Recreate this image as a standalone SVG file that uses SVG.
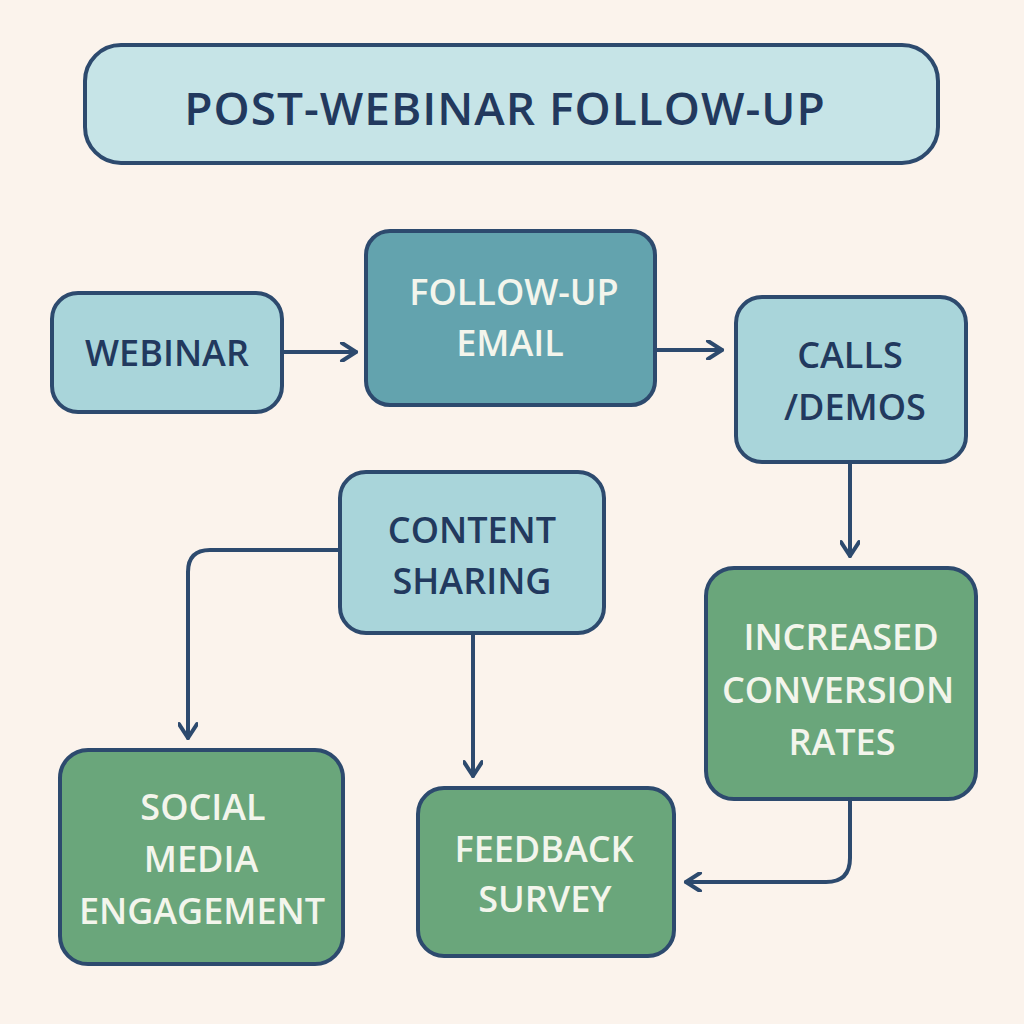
<svg xmlns="http://www.w3.org/2000/svg" width="1024" height="1024" viewBox="0 0 1024 1024">
<style>
.b{stroke:#2D4A6E;stroke-width:4}
.l{fill:#A9D5DA}.t{fill:#C6E4E7}.m{fill:#63A3AE}.g{fill:#6AA67B}
text{font-family:"Open Sans","Liberation Sans",sans-serif;font-weight:600;text-anchor:middle;font-size:36px}
.d{fill:#22395E}.w{fill:#F3F5EC}
.c{fill:none;stroke:#2D4A6E;stroke-width:4;stroke-linecap:round;stroke-linejoin:round}
</style>
<defs><marker id="a" viewBox="0 0 20 20" refX="17" refY="10" markerWidth="20" markerHeight="20" markerUnits="userSpaceOnUse" orient="auto"><path d="M3,1 L17,10 L3,19" fill="none" stroke="#2D4A6E" stroke-width="4" stroke-linecap="round" stroke-linejoin="round"/></marker></defs>
<rect width="1024" height="1024" fill="#FBF3EC"/>
<g id="title"><rect class="b t" x="85" y="45" width="853" height="118" rx="36"/><text class="d" x="505" y="125" style="font-size:46px;letter-spacing:1px">POST-WEBINAR FOLLOW-UP</text></g>
<g id="webinar"><rect class="b l" x="52" y="293" width="230" height="119" rx="26"/><text class="d" x="167" y="366">WEBINAR</text></g>
<g id="email"><rect class="b m" x="366" y="231" width="289" height="174" rx="24"/><text class="w" x="514" y="305">FOLLOW-UP</text><text class="w" x="510" y="356">EMAIL</text></g>
<g id="calls"><rect class="b l" x="736" y="297" width="230" height="165" rx="26"/><text class="d" x="850" y="368">CALLS</text><text class="d" x="855" y="420">/DEMOS</text></g>
<g id="content"><rect class="b l" x="340" y="472" width="264" height="161" rx="26"/><text class="d" x="472" y="543">CONTENT</text><text class="d" x="472" y="594">SHARING</text></g>
<g id="increased"><rect class="b g" x="706" y="568" width="270" height="231" rx="28"/><text class="w" x="841" y="650">INCREASED</text><text class="w" x="838" y="703">CONVERSION</text><text class="w" x="842" y="755">RATES</text></g>
<g id="social"><rect class="b g" x="60" y="750" width="283" height="214" rx="28"/><text class="w" x="203" y="820">SOCIAL</text><text class="w" x="201" y="872">MEDIA</text><text class="w" x="202" y="924">ENGAGEMENT</text></g>
<g id="feedback"><rect class="b g" x="418" y="788" width="256" height="168" rx="26"/><text class="w" x="544" y="862">FEEDBACK</text><text class="w" x="545" y="912">SURVEY</text></g>
<g id="connectors">
<path class="c" d="M282,352 H356" marker-end="url(#a)"/>
<path class="c" d="M655,350 H722" marker-end="url(#a)"/>
<path class="c" d="M850,462 V556" marker-end="url(#a)"/>
<path class="c" d="M340,550 H210 Q188,550 188,572 V738" marker-end="url(#a)"/>
<path class="c" d="M473,633 V776" marker-end="url(#a)"/>
<path class="c" d="M850,799 V858 Q850,882 826,882 H686" marker-end="url(#a)"/>
</g>
</svg>
